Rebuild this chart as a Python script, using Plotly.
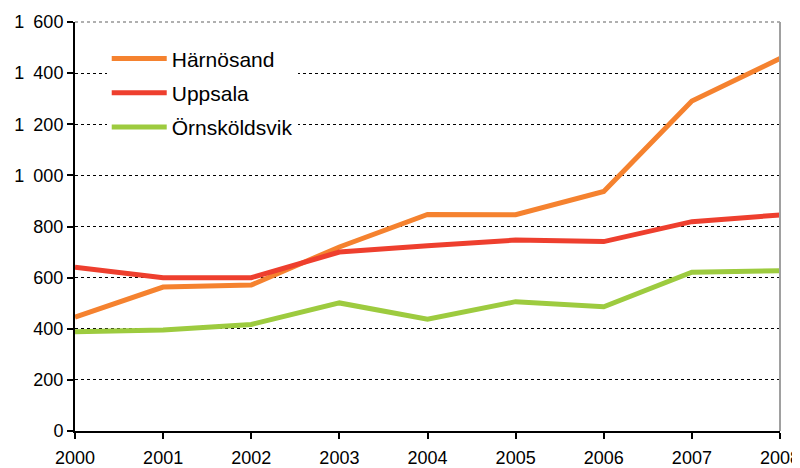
import plotly.graph_objects as go

years = [2000, 2001, 2002, 2003, 2004, 2005, 2006, 2007, 2008]
harnosand = [445, 563, 571, 720, 847, 846, 937, 1291, 1457]
uppsala = [641, 600, 600, 700, 725, 747, 741, 819, 845]
ornskoldsvik = [388, 395, 417, 501, 437, 506, 486, 621, 627]
y_ticks = [0, 200, 400, 600, 800, 1000, 1200, 1400, 1600]
y_labels = ["0", "200", "400", "600", "800", "1\u2002000", "1\u2002200", "1\u2002400", "1\u2002600"]

series = [
    ("Härnösand", harnosand, "#F5822F"),
    ("Uppsala", uppsala, "#EE3F2E"),
    ("Örnsköldsvik", ornskoldsvik, "#9DCB3F"),
]

fig = go.Figure()
for i, (name, vals, col) in enumerate(series):
    fig.add_trace(go.Scatter(x=years, y=vals, name=name, mode="lines",
                             line=dict(color=col, width=5), legendgroup=f"g{i}"))

fig.update_layout(
    width=792, height=460,
    margin=dict(l=67, r=20, t=14, b=37, autoexpand=False),
    paper_bgcolor="white", plot_bgcolor="white",
    font=dict(family="Liberation Sans, Arial", size=18, color="black"),
    showlegend=True,
    legend=dict(x=0.045, y=0.96, xanchor="left", yanchor="top",
                bgcolor="white", font=dict(size=21), tracegroupgap=4,
                itemwidth=55),
    xaxis=dict(range=[2000, 2008], tickmode="array", tickvals=years,
               ticktext=[str(y) for y in years], automargin=False,
               ticklabeloverflow="allow", ticklabelstandoff=3,
               showgrid=False, showline=True, linecolor="black", linewidth=2,
               ticks="outside", ticklen=6, tickwidth=2, tickcolor="black",
               zeroline=False),
    yaxis=dict(range=[0, 1600], tickmode="array", tickvals=y_ticks,
               ticktext=y_labels, automargin=False, ticklabeloverflow="allow",
               showgrid=True, gridcolor="black", griddash="dot", gridwidth=1,
               showline=True, linecolor="black", linewidth=2,
               ticks="outside", ticklen=6, tickwidth=2, tickcolor="black",
               zeroline=False),
)
fig.add_shape(type="line", xref="paper", yref="paper", x0=0, x1=1, y0=1, y1=1,
              line=dict(color="#B0B0B0", width=2, dash="dot"), layer="above")
fig.add_shape(type="line", xref="paper", yref="paper", x0=1, x1=1, y0=0, y1=1,
              line=dict(color="#A0A0A0", width=2))
fig.write_html("out.html")
